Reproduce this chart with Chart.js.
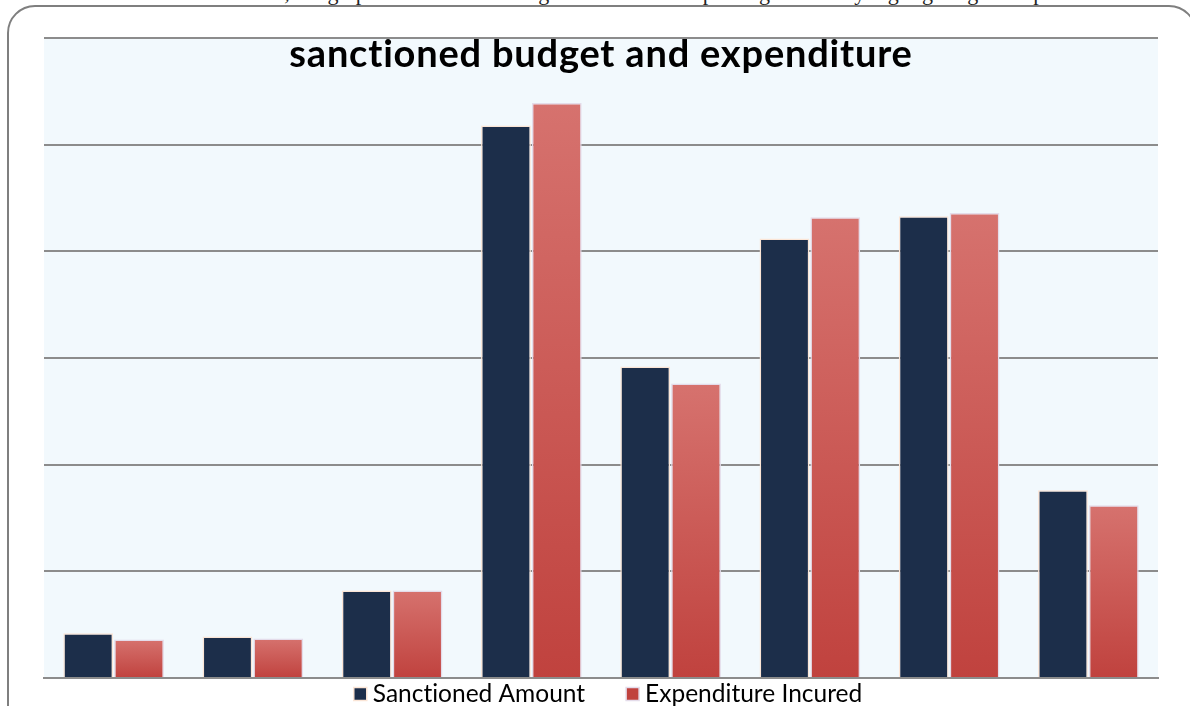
<!DOCTYPE html>
<html>
<head>
<meta charset="utf-8">
<title>sanctioned budget and expenditure</title>
<script src="https://cdn.jsdelivr.net/npm/chart.js@4"></script>
<style>
  html, body { margin: 0; padding: 0; background: #ffffff; overflow: hidden; }
  #wrap { position: relative; width: 1190px; height: 706px; }
  #frame {
    position: absolute; left: 7px; top: 5px; width: 1190px; height: 730px;
    border: 2px solid #7f7f7f; border-radius: 28px; box-sizing: border-box;
  }
  #above {
    position: absolute; left: 250px; top: -20px; white-space: nowrap;
    font-family: "Liberation Serif", serif; font-size: 22px; color: #222;
  }
  canvas { position: absolute; left: 0; top: 0; }
</style>
</head>
<body>
<div id="wrap">
  <div id="above">tion, the graph indicates that budget allocation was put to good use by highlighting its impact</div>
  <div id="frame"></div>
  <canvas id="budgetChart" width="1190" height="706"></canvas>
</div>
<script>
// chart data
const categories = ["1", "2", "3", "4", "5", "6", "7", "8"];
const sanctionedAmount = [4.2, 3.9, 8.2, 51.8, 29.2, 41.2, 43.3, 17.6];
const expenditureIncured = [3.6, 3.7, 8.2, 53.9, 27.6, 43.2, 43.6, 16.2];
const yTicks = [0, 10, 20, 30, 40, 50, 60];

const SANCTIONED_COLOR = "#1c2e4a";
const EXPENDITURE_TOP = "#d6726e";
const EXPENDITURE_BOTTOM = "#c0423e";

// Lato joins "ti" into a ligature; keep the letters apart when drawing
const noLig = (s) => s.replace(/ti/g, "t\u200Ci");

/**
 * Vertical gradient for one bar, lighter on top
 */
function barGradient(context, topColor, bottomColor) {
  const chart = context.chart;
  const { ctx, chartArea, scales } = chart;
  if (!chartArea || context.raw === undefined) return bottomColor;
  const yTop = scales.y.getPixelForValue(context.raw);
  const yBase = scales.y.getPixelForValue(0);
  const g = ctx.createLinearGradient(0, yTop, 0, yBase);
  g.addColorStop(0, topColor);
  g.addColorStop(1, bottomColor);
  return g;
}

// plot area fill, title over it, and the legend below
const plotDecor = {
  id: "plotDecor",
  beforeDraw(chart) {
    const { ctx, chartArea } = chart;
    ctx.save();
    ctx.fillStyle = "#f2f9fd";
    ctx.fillRect(chartArea.left, chartArea.top, chartArea.right - chartArea.left, chartArea.bottom - chartArea.top);
    ctx.restore();
  },
  afterDatasetsDraw(chart) {
    const { ctx } = chart;
    ctx.save();
    ctx.font = "bold 38px Lato";
    ctx.letterSpacing = "0.8px";
    ctx.fillStyle = "#000000";
    ctx.textAlign = "center";
    ctx.textBaseline = "alphabetic";
    ctx.fillText(noLig("sanctioned budget and expenditure"), 601, 67);
    ctx.restore();
  },
  afterDraw(chart) {
    const { ctx } = chart;
    const sets = chart.data.datasets;
    const box = 13, gapText = 6, gapItem = 41;
    ctx.save();
    ctx.font = "24.5px Lato";
    ctx.textBaseline = "middle";
    const texts = sets.map((d) => noLig(d.label));
    const widths = texts.map((t) => ctx.measureText(t).width);
    let total = 0;
    widths.forEach((w, i) => { total += box + gapText + w + (i < widths.length - 1 ? gapItem : 0); });
    let x = 608 - total / 2;
    const cy = 694;
    sets.forEach((d, i) => {
      ctx.fillStyle = i === 0 ? SANCTIONED_COLOR : EXPENDITURE_BOTTOM;
      ctx.fillRect(x, cy - box / 2, box, box);
      ctx.strokeStyle = d.borderColor;
      ctx.lineWidth = 1.5;
      ctx.strokeRect(x, cy - box / 2, box, box);
      x += box + gapText;
      ctx.fillStyle = "#000000";
      ctx.fillText(texts[i], x, cy);
      x += widths[i] + gapItem;
    });
    ctx.restore();
  },
};

const ctx = document.getElementById("budgetChart").getContext("2d");

new Chart(ctx, {
  type: "bar",
  data: {
    labels: categories,
    datasets: [
      {
        label: "Sanctioned Amount",
        data: sanctionedAmount,
        backgroundColor: SANCTIONED_COLOR,
        borderColor: "#fbe5d6",
        borderWidth: 1.5,
      },
      {
        label: "Expenditure Incured",
        data: expenditureIncured,
        backgroundColor: (c) => barGradient(c, EXPENDITURE_TOP, EXPENDITURE_BOTTOM),
        borderColor: "#e4dcea",
        borderWidth: 1.5,
      },
    ],
  },
  options: {
    responsive: false,
    animation: false,
    barPercentage: 0.98,
    categoryPercentage: 0.73,
    layout: {
      padding: { left: 44, right: 32, top: 38, bottom: 20 },
    },
    scales: {
      x: {
        grid: { display: false },
        ticks: { display: false },
        border: { display: true, color: "#8c8c8c", width: 2 },
      },
      y: {
        min: yTicks[0],
        max: yTicks[yTicks.length - 1],
        afterBuildTicks: (axis) => {
          axis.ticks = yTicks.map((v) => ({ value: v }));
        },
        grid: { color: "#8c8c8c", lineWidth: 2, drawTicks: false },
        ticks: { display: false },
        border: { display: false },
      },
    },
    plugins: {
      title: { display: false },
      tooltip: { enabled: false },
      legend: { display: false },
    },
  },
  plugins: [plotDecor],
});
</script>
</body>
</html>
